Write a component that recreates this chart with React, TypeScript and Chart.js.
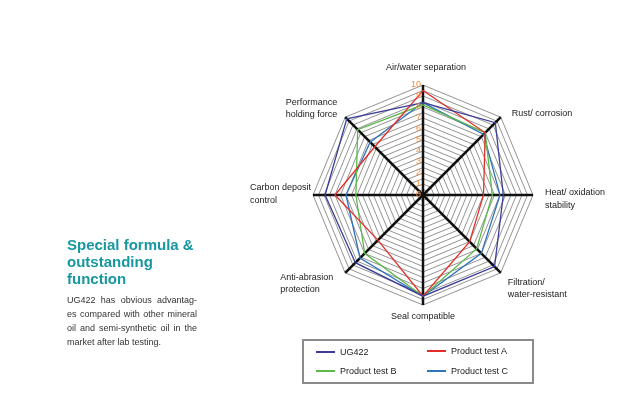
import React, { useEffect, useRef } from "react";
import { Chart, registerables } from "chart.js";

Chart.register(...registerables);

const categories = [
  "Air/water separation",
  "Rust/ corrosion",
  "Heat/ oxidation stability",
  "Filtration/ water-resistant",
  "Seal compatible",
  "Anti-abrasion protection",
  "Carbon deposit control",
  "Performance holding force",
];
const categoryLines = [
  ["Air/water separation"],
  ["Rust/ corrosion"],
  ["Heat/ oxidation", "stability"],
  ["Filtration/", "water-resistant"],
  ["Seal compatible"],
  ["Anti-abrasion", "protection"],
  ["Carbon deposit", "control"],
  ["Performance", "holding force"],
];
const seriesNames = ["UG422", "Product test A", "Product test B", "Product test C"];
const ug422 = [8.4, 9.3, 7.3, 9.2, 9.2, 8.7, 8.9, 9.8];
const productA = [9.5, 8.0, 5.5, 6.0, 9.2, 5.8, 8.0, 6.2];
const productB = [8.2, 8.0, 6.3, 6.9, 9.2, 7.5, 6.1, 8.4];
const productC = [8.4, 7.8, 7.0, 7.5, 9.2, 8.1, 7.0, 6.8];
const tickValues = [0, 1, 2, 3, 4, 5, 6, 7, 8, 9, 10];

const seriesColors = ["#3b3c98", "#e52d27", "#5cb84a", "#2e74b8"];

const placements = [
  { align: "center", dx: 3, dy: -17, lh: 12 },
  { align: "left", dx: 11, dy: -4, lh: 12 },
  { align: "left", dx: 12, dy: -2, lh: 13 },
  { align: "left", dx: 7, dy: 10, lh: 12 },
  { align: "center", dx: 0, dy: 12, lh: 12 },
  { align: "left", dx: -65, dy: 5, lh: 12 },
  { align: "left", dx: -63, dy: -7, lh: 13 },
  { align: "right", dx: -8, dy: -15, lh: 12 },
];

const FONT = '"Liberation Sans", Arial, Helvetica, sans-serif';

const labelPlugin = {
  id: "customLabels",
  afterDraw(chart: any) {
    const scale = chart.scales.r;
    const ctx = chart.ctx;
    ctx.save();
    ctx.font = `9px ${FONT}`;
    ctx.textBaseline = "middle";
    ctx.fillStyle = "#f28a3a";
    ctx.textAlign = "right";
    tickValues.forEach((v) => {
      const d = scale.getDistanceFromCenterForValue(v);
      ctx.fillText(String(v), scale.xCenter - 2, scale.yCenter - d);
    });
    ctx.fillStyle = "#1a1a1a";
    categoryLines.forEach((lines, i) => {
      const p = scale.getPointPosition(i, scale.drawingArea);
      const pl = placements[i];
      ctx.textAlign = pl.align;
      lines.forEach((t, j) => {
        ctx.fillText(t, p.x + pl.dx, p.y + pl.dy + j * pl.lh);
      });
    });
    ctx.restore();
  },
};

export default function App() {
  const canvasRef = useRef<HTMLCanvasElement | null>(null);

  useEffect(() => {
    if (!canvasRef.current) return;
    const values = [ug422, productA, productB, productC];
    const chart = new Chart(canvasRef.current, {
      type: "radar",
      data: {
        labels: categories,
        datasets: seriesNames.map((name, i) => ({
          label: name,
          data: values[i],
          borderColor: seriesColors[i],
          backgroundColor: "transparent",
          borderWidth: 1.3,
          fill: false,
          pointRadius: 0,
          pointHoverRadius: 0,
          tension: 0,
        })),
      },
      options: {
        animation: false,
        responsive: true,
        maintainAspectRatio: false,
        layout: { padding: { left: 313, right: 85, top: 85, bottom: 111 } },
        plugins: { legend: { display: false }, tooltip: { enabled: false } },
        scales: {
          r: {
            min: 0,
            max: 10,
            beginAtZero: true,
            ticks: { display: false, stepSize: 0.5 },
            grid: { color: "#6f6f6f", lineWidth: 0.75 },
            angleLines: { color: "#111111", lineWidth: 2.5 },
            pointLabels: { display: false },
          },
        },
      },
      plugins: [labelPlugin],
    });
    return () => chart.destroy();
  }, []);

  const legendItem = (name: string, color: string, left: number, top: number) => (
    <div key={name} style={{ position: "absolute", left, top, display: "flex", alignItems: "center" }}>
      <div style={{ width: 19, height: 2.5, background: color, marginRight: 5 }} />
      <span style={{ fontSize: 9, color: "#1a1a1a" }}>{name}</span>
    </div>
  );

  return (
    <div style={{ position: "absolute", left: 0, top: 0, width: 618, height: 416, background: "#fff", fontFamily: FONT }}>
      <div style={{ position: "absolute", left: 0, top: 0, width: 618, height: 416 }}>
        <canvas ref={canvasRef} />
      </div>
      <div style={{ position: "absolute", left: 67, top: 236, width: 160, color: "#17979f", fontWeight: "bold", fontSize: 15, lineHeight: "17px" }}>
        Special formula &amp;<br />outstanding<br />function
      </div>
      <div style={{ position: "absolute", left: 67, top: 293, width: 130, color: "#333", fontSize: 9, lineHeight: "14px" }}>
        <div style={{ textAlign: "justify", textAlignLast: "justify" }}>UG422 has obvious advantag-</div>
        <div style={{ textAlign: "justify", textAlignLast: "justify" }}>es compared with other mineral</div>
        <div style={{ textAlign: "justify", textAlignLast: "justify" }}>oil and semi-synthetic oil in the</div>
        <div>market after lab testing.</div>
      </div>
      <div style={{ position: "absolute", left: 302, top: 339, width: 228, height: 41, border: "2px solid #8a8a8a" }} />
      {legendItem(seriesNames[0], seriesColors[0], 316, 347)}
      {legendItem(seriesNames[1], seriesColors[1], 427, 346)}
      {legendItem(seriesNames[2], seriesColors[2], 316, 366)}
      {legendItem(seriesNames[3], seriesColors[3], 427, 366)}
    </div>
  );
}
